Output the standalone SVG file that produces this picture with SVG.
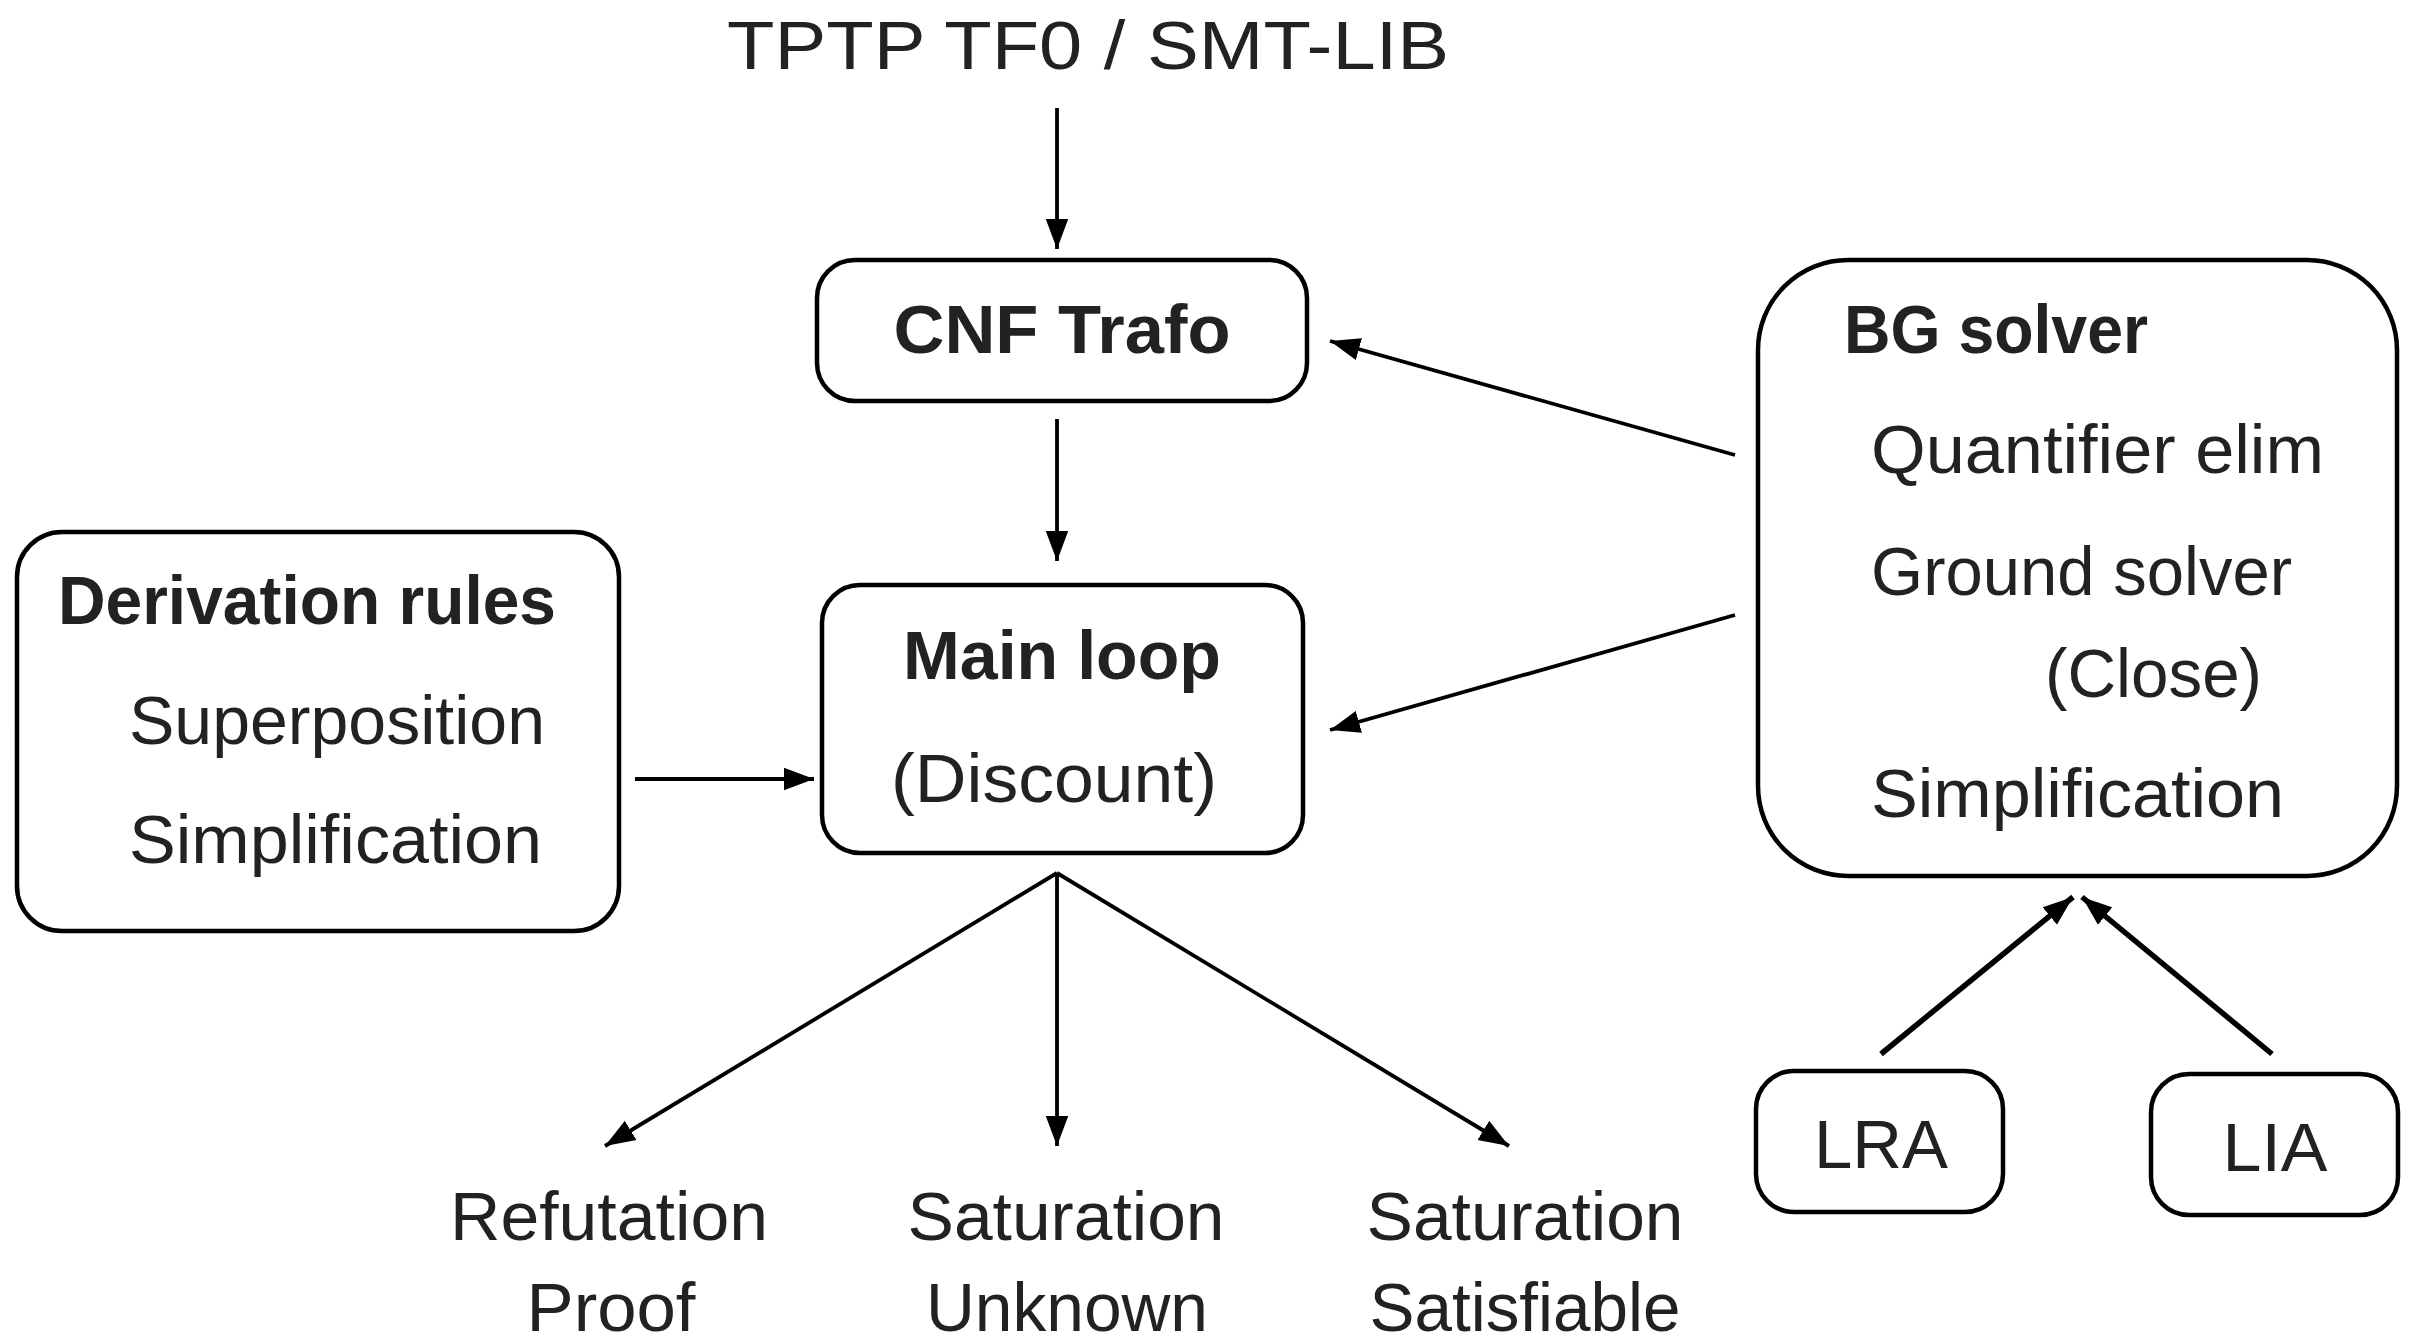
<svg xmlns="http://www.w3.org/2000/svg" width="2409" height="1343" viewBox="0 0 2409 1343">
<defs>
<style>
text{font-family:"Liberation Sans",Arial,sans-serif;fill:#222;font-size:68px}
.b{font-weight:bold}
.box{fill:#fff;stroke:#000;stroke-width:4.5}
.c{stroke:#000;stroke-width:3.8;fill:none}
.t{stroke-width:5.5}
</style>
<marker id="ah" markerUnits="userSpaceOnUse" markerWidth="30" markerHeight="24" viewBox="0 0 24 18" refX="24" refY="9" orient="auto">
<path d="M0,0 L24,9 L0,18 z" fill="#000"/>
</marker>
</defs>
<rect width="2409" height="1343" fill="#fff"/>
<g id="connectors">
<line class="c" x1="1057" y1="108" x2="1057" y2="249" marker-end="url(#ah)"/>
<line class="c" x1="1057" y1="419" x2="1057" y2="561" marker-end="url(#ah)"/>
<line class="c" x1="635" y1="779" x2="814" y2="779" marker-end="url(#ah)"/>
<line class="c" x1="1735" y1="455" x2="1330" y2="341" marker-end="url(#ah)"/>
<line class="c" x1="1735" y1="615" x2="1330" y2="730" marker-end="url(#ah)"/>
<line class="c" x1="1057" y1="873" x2="605" y2="1146" marker-end="url(#ah)"/>
<line class="c" x1="1057" y1="873" x2="1057" y2="1146" marker-end="url(#ah)"/>
<line class="c" x1="1057" y1="873" x2="1509" y2="1146" marker-end="url(#ah)"/>
<line class="c t" x1="1881" y1="1054" x2="2073" y2="897" marker-end="url(#ah)"/>
<line class="c t" x1="2272" y1="1054" x2="2082" y2="897" marker-end="url(#ah)"/>
</g>
<g id="title">
<text x="1088" y="69" text-anchor="middle" font-size="72" textLength="722" lengthAdjust="spacingAndGlyphs">TPTP TF0 / SMT-LIB</text>
</g>
<g id="cnf">
<rect class="box" x="817" y="260" width="490" height="141" rx="38"/>
<text class="b" x="1062" y="353" text-anchor="middle" textLength="337" lengthAdjust="spacingAndGlyphs">CNF Trafo</text>
</g>
<g id="mainloop">
<rect class="box" x="822" y="585" width="481" height="268" rx="38"/>
<text class="b" x="1062" y="679" text-anchor="middle" textLength="318" lengthAdjust="spacingAndGlyphs">Main loop</text>
<text x="1054" y="802" text-anchor="middle" textLength="326" lengthAdjust="spacingAndGlyphs">(Discount)</text>
</g>
<g id="derivation">
<rect class="box" x="17" y="532" width="602" height="399" rx="45"/>
<text class="b" x="58" y="624" textLength="498" lengthAdjust="spacingAndGlyphs">Derivation rules</text>
<text x="129" y="744" textLength="416" lengthAdjust="spacingAndGlyphs">Superposition</text>
<text x="129" y="863" textLength="413" lengthAdjust="spacingAndGlyphs">Simplification</text>
</g>
<g id="bgsolver">
<rect class="box" x="1758" y="260" width="639" height="616" rx="90"/>
<text class="b" x="1844" y="353" textLength="304" lengthAdjust="spacingAndGlyphs">BG solver</text>
<text x="1871" y="473" textLength="453" lengthAdjust="spacingAndGlyphs">Quantifier elim</text>
<text x="1871" y="595" textLength="421" lengthAdjust="spacingAndGlyphs">Ground solver</text>
<text x="2045" y="697" textLength="217" lengthAdjust="spacingAndGlyphs">(Close)</text>
<text x="1871" y="817" textLength="413" lengthAdjust="spacingAndGlyphs">Simplification</text>
</g>
<g id="refutation">
<text x="609" y="1240" text-anchor="middle" textLength="318" lengthAdjust="spacingAndGlyphs">Refutation</text>
<text x="611" y="1331" text-anchor="middle" textLength="169" lengthAdjust="spacingAndGlyphs">Proof</text>
</g>
<g id="unknown">
<text x="1066" y="1240" text-anchor="middle" textLength="317" lengthAdjust="spacingAndGlyphs">Saturation</text>
<text x="1067" y="1331" text-anchor="middle" textLength="282" lengthAdjust="spacingAndGlyphs">Unknown</text>
</g>
<g id="satisfiable">
<text x="1525" y="1240" text-anchor="middle" textLength="317" lengthAdjust="spacingAndGlyphs">Saturation</text>
<text x="1525" y="1331" text-anchor="middle" textLength="311" lengthAdjust="spacingAndGlyphs">Satisfiable</text>
</g>
<g id="lra">
<rect class="box" x="1756" y="1071" width="247" height="141" rx="38"/>
<text x="1881" y="1168" text-anchor="middle" textLength="134" lengthAdjust="spacingAndGlyphs">LRA</text>
</g>
<g id="lia">
<rect class="box" x="2151" y="1074" width="247" height="141" rx="38"/>
<text x="2275" y="1171" text-anchor="middle" textLength="105" lengthAdjust="spacingAndGlyphs">LIA</text>
</g>
</svg>
